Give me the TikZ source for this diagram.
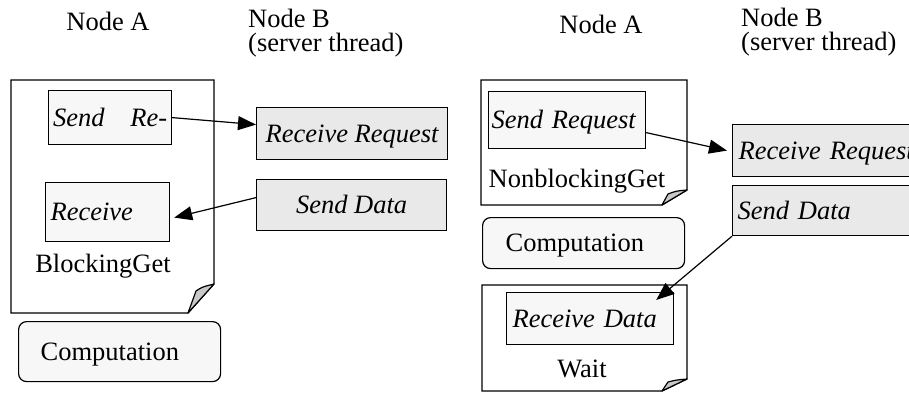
\documentclass[tikz,border=0pt]{standalone}
\usepackage{fontspec}
\setmainfont{Liberation Serif}
\usetikzlibrary{arrows.meta}
\definecolor{fillA}{HTML}{F7F7F7}
\definecolor{fillB}{HTML}{E9E9E9}
\definecolor{foldgray}{HTML}{C8C8C8}
\begin{document}
\begin{tikzpicture}[x=1pt,y=1pt,
  font=\fontsize{26.5}{24}\selectfont,
  lw/.style={line width=1.2pt},
  boxbase/.style={draw, lw, rectangle, anchor=north west, text height=17.5pt, text depth=0pt, inner ysep=0pt},
  abox/.style={boxbase, fill=fillA, font=\fontsize{26.5}{24}\selectfont\itshape},
  bbox/.style={boxbase, fill=fillB, font=\fontsize{26.5}{24}\selectfont\itshape},
  cbox/.style={boxbase, fill=fillA, rounded corners=8pt},
  page/.style={draw, lw, fill=white, line join=miter},
  fold/.style={draw, lw, fill=foldgray, line join=round},
  arr/.style={lw, -{Triangle[length=18pt,width=14pt]}},
  lbl/.style={inner sep=0pt, anchor=base},
]
\useasboundingbox (0,0) rectangle (909,-392);

% ---------- left panel ----------
\node[lbl] (na1) at (108,-30) {Node A};
\node[lbl, anchor=base west, align=left] (nb1) at (248,-51) {Node B\\(server thread)};

\draw[page] (11,-80) -- (214,-80) -- (214,-284) -- (188,-313) -- (11,-313) -- cycle;
\draw[fold] (188,-313) -- (196,-291) .. controls (202,-287) .. (214,-284) -- cycle;

\node[abox, minimum width=123pt, minimum height=54pt, inner xsep=0pt] (sr1) at (48,-90) {\hbox to 114pt{Send\hfill Re-}};
\node[abox, minimum width=124pt, minimum height=59pt, inner xsep=5pt, text width=114pt, align=left] (rv1) at (45,-182) {Receive};
\node[lbl] (bg) at (103,-272) {BlockingGet};

\node[bbox, minimum width=191pt, minimum height=52pt] (rr1) at (256,-107) {Receive Request};
\node[bbox, minimum width=190pt, minimum height=51pt] (sd1) at (256,-179) {Send Data};

\node[cbox, minimum width=202pt, minimum height=60pt, inner xsep=22pt, text width=158pt, align=left] (cp1) at (18,-321) {Computation};

\draw[arr] (sr1.east) -- ([yshift=9pt]rr1.west);
\draw[arr] ([yshift=7.5pt]sd1.west) -- ([xshift=4pt,yshift=-5.5pt]rv1.east);

% ---------- right panel ----------
\node[lbl] (na2) at (601,-33) {Node A};
\node[lbl, anchor=base west, align=left] (nb2) at (741,-50) {Node B\\(server thread)};

\draw[page] (481,-80) -- (687,-80) -- (687,-190) -- (662,-205) -- (481,-205) -- cycle;
\draw[fold] (662,-205) -- (668,-194) .. controls (676,-191) .. (687,-190) -- cycle;

\node[abox, minimum width=157pt, minimum height=57pt, inner xsep=3pt, text width=151pt, align=left] (sr2) at (488,-91) {Send Request};
\node[lbl] (nbg) at (577,-187) {NonblockingGet};

\node[cbox, minimum width=202pt, minimum height=51pt, inner xsep=23pt, text width=156pt, align=left] (cp2) at (482,-217) {Computation};

\draw[page] (482,-285) -- (687,-285) -- (687,-379) -- (662,-391) -- (482,-391) -- cycle;
\draw[fold] (662,-391) -- (668,-382) .. controls (676,-380) .. (687,-379) -- cycle;

\node[abox, minimum width=167pt, minimum height=52pt, inner xsep=6pt, text width=155pt, align=left] (rd) at (506,-292) {Receive Data};
\node[lbl] (wt) at (582,-377) {Wait};

\node[bbox, minimum width=190pt, minimum height=52pt, inner xsep=6pt, text width=178pt, align=left] (rr2) at (732,-124) {Receive Request};
\node[bbox, minimum width=190pt, minimum height=50pt, inner xsep=5pt, text width=180pt, align=left] (sd2) at (732,-185) {Send Data};

\draw[arr] ([yshift=-12.5pt]sr2.east) -- ([xshift=-5pt]rr2.west);
\draw[arr] (sd2.south west) -- ([xshift=-18pt,yshift=-8pt]rd.north east);
\end{tikzpicture}
\end{document}
